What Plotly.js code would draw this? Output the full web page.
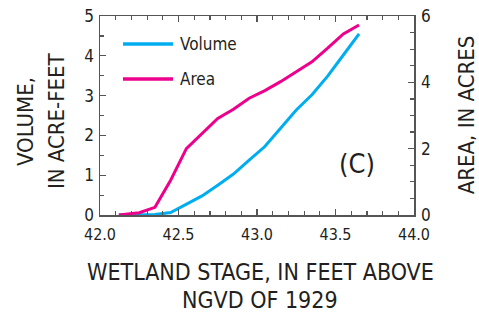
<!DOCTYPE html>
<html><head><meta charset="utf-8">
<script src="https://cdn.plot.ly/plotly-3.0.1.min.js"></script>
<style>html,body{margin:0;padding:0;background:#fff}#chart{width:479px;height:313px}</style>
</head><body><div id="chart"></div>
<script>
const stage = [42.12, 42.25, 42.35, 42.45, 42.55, 42.65, 42.75, 42.85, 42.95, 43.05, 43.15, 43.25, 43.35, 43.45, 43.55, 43.65];
const volume = [0, 0, 0.01, 0.06, 0.28, 0.48, 0.75, 1.03, 1.38, 1.72, 2.18, 2.64, 3.02, 3.49, 4.02, 4.55];
const area = [0, 0.07, 0.23, 1.05, 2.0, 2.46, 2.91, 3.19, 3.52, 3.75, 4.02, 4.32, 4.62, 5.03, 5.46, 5.73];
const seriesNames = ['Volume', 'Area'];
const colors = ['#00aeef', '#ec008c'];

const FONT = '"Liberation Sans Narrow", "DejaVu Sans Condensed", "Arial Narrow", sans-serif';
const TXT = '#231f20';
const AX = '#555555';

const traces = [
  {x: stage, y: volume, name: seriesNames[0], type: 'scatter', mode: 'lines', yaxis: 'y',
   line: {color: colors[0], width: 3}, showlegend: false},
  {x: stage, y: area, name: seriesNames[1], type: 'scatter', mode: 'lines', yaxis: 'y2',
   line: {color: colors[1], width: 3}, showlegend: false}
];

const axCommon = {showgrid: false, zeroline: false, showline: true, linecolor: AX, linewidth: 1.5,
  ticks: 'inside', ticklen: 6, tickcolor: AX, tickwidth: 1.2,
  tickfont: {family: FONT, size: 17, color: TXT}};

const layout = {
  width: 479, height: 313,
  margin: {l: 100, r: 65, t: 16, b: 98},
  paper_bgcolor: '#fff', plot_bgcolor: '#fff',
  font: {family: FONT, color: TXT},
  xaxis: Object.assign({}, axCommon, {range: [42, 44], dtick: 0.5, tick0: 42, tickformat: '.1f',
    mirror: 'ticks', ticklabelstandoff: 4, tickfont: {family: FONT, size: 16, color: TXT},
    minor: {dtick: 0.1, ticks: 'inside', ticklen: 4, tickcolor: AX}}),
  yaxis: Object.assign({}, axCommon, {range: [0, 5], dtick: 1, ticklabelstandoff: 1,
    minor: {dtick: 0.5, ticks: 'inside', ticklen: 4, tickcolor: AX}}),
  yaxis2: Object.assign({}, axCommon, {range: [0, 6], dtick: 2, overlaying: 'y', side: 'right', ticklabelstandoff: 2,
    minor: {dtick: 0.5, ticks: 'inside', ticklen: 4, tickcolor: AX}}),
  shapes: [
    {type: 'line', xref: 'paper', yref: 'paper', x0: 0.0732, x1: 0.2325, y0: 0.859, y1: 0.859,
     line: {color: colors[0], width: 3.5}},
    {type: 'line', xref: 'paper', yref: 'paper', x0: 0.0732, x1: 0.2325, y0: 0.683, y1: 0.683,
     line: {color: colors[1], width: 3.5}}
  ],
  annotations: [
    {text: seriesNames[0], xref: 'paper', yref: 'paper', x: 0.248, y: 0.859, xanchor: 'left', yanchor: 'middle',
     showarrow: false, font: {family: FONT, size: 17, color: TXT}},
    {text: seriesNames[1], xref: 'paper', yref: 'paper', x: 0.248, y: 0.683, xanchor: 'left', yanchor: 'middle',
     showarrow: false, font: {family: FONT, size: 17, color: TXT}},
    {text: '(C)', xref: 'paper', yref: 'paper', x: 0.818, y: 0.261, xanchor: 'center', yanchor: 'middle',
     showarrow: false, font: {family: FONT, size: 27, color: TXT}},
    {text: 'WETLAND STAGE, IN FEET ABOVE', xref: 'paper', yref: 'paper', x: 0.51, y: -0.286,
     xanchor: 'center', yanchor: 'middle', showarrow: false, font: {family: FONT, size: 23, color: TXT}},
    {text: 'NGVD OF 1929', xref: 'paper', yref: 'paper', x: 0.51, y: -0.427,
     xanchor: 'center', yanchor: 'middle', showarrow: false, font: {family: FONT, size: 23, color: TXT}},
    {text: 'VOLUME,', xref: 'paper', yref: 'paper', x: -0.239, y: 0.472, textangle: -90,
     xanchor: 'center', yanchor: 'middle', showarrow: false, font: {family: FONT, size: 22, color: TXT}},
    {text: 'IN ACRE-FEET', xref: 'paper', yref: 'paper', x: -0.14, y: 0.472, textangle: -90,
     xanchor: 'center', yanchor: 'middle', showarrow: false, font: {family: FONT, size: 22, color: TXT}},
    {text: 'AREA, IN ACRES', xref: 'paper', yref: 'paper', x: 1.166, y: 0.502, textangle: -90,
     xanchor: 'center', yanchor: 'middle', showarrow: false, font: {family: FONT, size: 22, color: TXT}}
  ]
};

Plotly.newPlot('chart', traces, layout, {displayModeBar: false, staticPlot: true});
</script></body></html>
